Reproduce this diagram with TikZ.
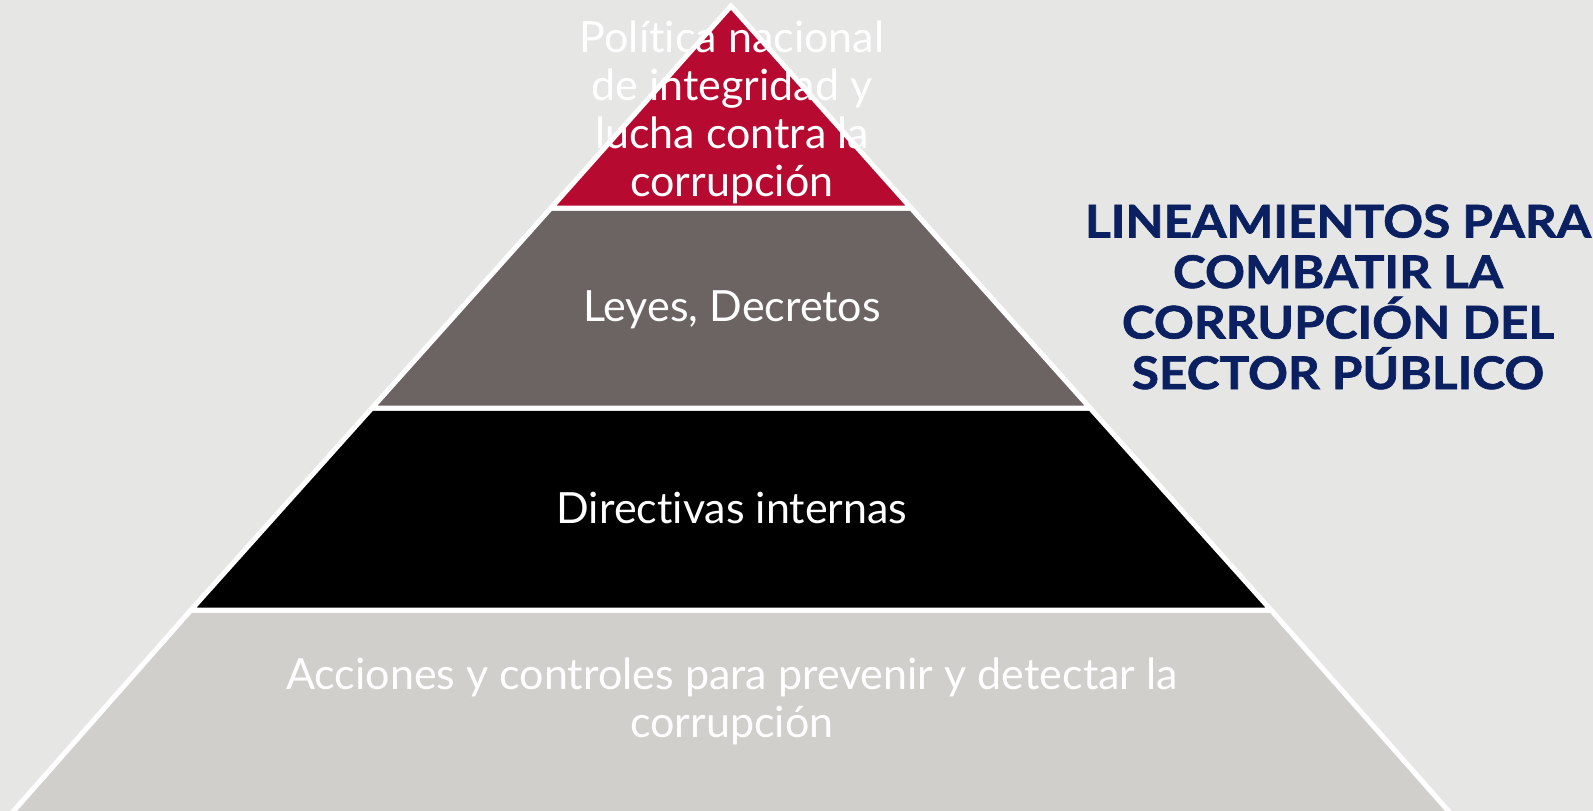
\documentclass[tikz,border=0pt]{standalone}
\usepackage{fontspec}
\setmainfont{Lato}[Ligatures=NoCommon]
\usetikzlibrary{positioning}
\definecolor{fondo}{HTML}{E6E6E4}
\definecolor{rojo}{HTML}{B70A30}
\definecolor{pardo}{HTML}{6B6462}
\definecolor{claro}{HTML}{D0CFCB}
\definecolor{marino}{HTML}{0A2060}
\tikzset{
	nivel/.style={draw=white,line width=5pt,line join=miter},
	rotulo/.style={text=white,align=center,font=\fontsize{43}{48}\selectfont},
}
\begin{document}
\begin{tikzpicture}[x=1pt,y=-1pt]
		\useasboundingbox[fill=fondo] (0,0) rectangle (1593,811);
		% piramide
		\draw[nivel,fill=claro] (191,610) -- (1271,610) -- (1451,814) -- (11,814) -- cycle;
		\draw[nivel,fill=black] (372,408) -- (1090,408) -- (1271,610) -- (191,610) -- cycle;
		\draw[nivel,fill=pardo] (551,208) -- (911,208) -- (1090,408) -- (372,408) -- cycle;
		\draw[nivel,fill=rojo] (731,6) -- (911,208) -- (551,208) -- cycle;
		\path
		(732,112) node[rotulo](politica) {Política nacional\\de integridad y\\lucha contra la\\corrupción}
		(732,310) node[rotulo](leyes) {Leyes, Decretos}
		(732,508) node[rotulo](directivas) {Directivas internas}
		(732,701) node[rotulo](acciones) {Acciones y controles para prevenir y detectar la\\corrupción}
		(1338,297) node[text=marino,align=center,font=\fontsize{45}{50.5}\selectfont\bfseries\addfontfeatures{FakeStretch=1.1,FakeBold=1.5}](titulo) {LINEAMIENTOS PARA\\COMBATIR LA\\CORRUPCIÓN DEL\\SECTOR PÚBLICO};
	\end{tikzpicture}
\end{document}
